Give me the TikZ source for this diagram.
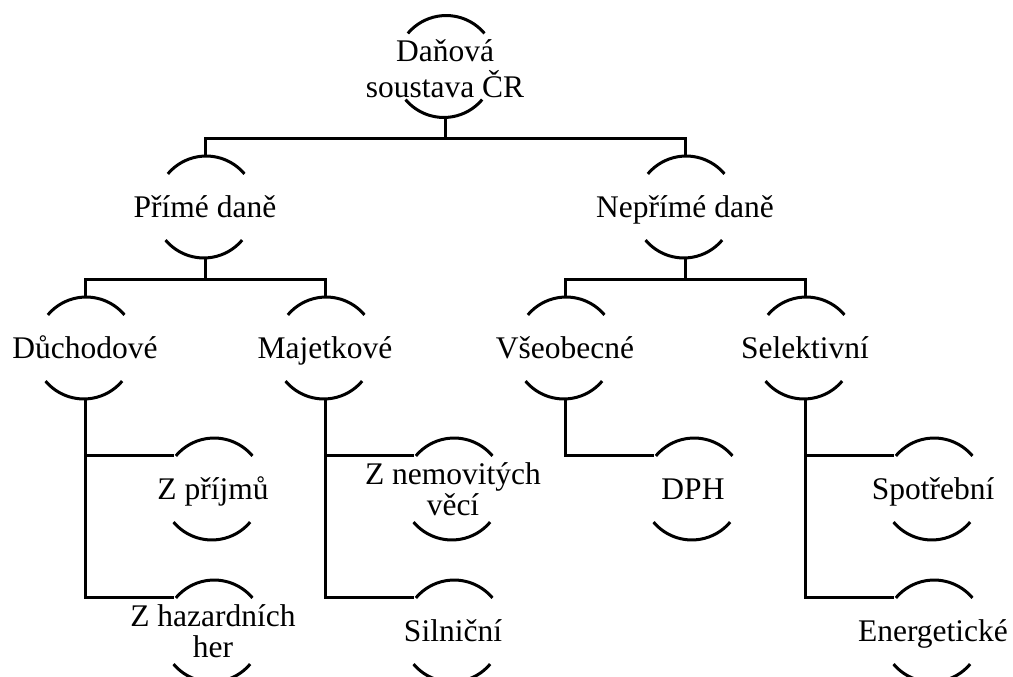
\documentclass[tikz,border=0pt]{standalone}
\usepackage{fontspec}
\setmainfont{Liberation Serif}
\newcommand{\twoline}[2]{\begin{tabular}[t]{@{}c@{}}#1\\#2\end{tabular}}
\begin{document}
\begin{tikzpicture}[x=1pt,y=1pt,line width=3pt,
  ring/.style={circle,minimum size=100pt,inner sep=0pt,draw=none},
  txt/.style={inner sep=0pt,font=\fontsize{31.5}{31}\selectfont},
  one/.style={txt,text height=20.6pt,text depth=0pt},
  two/.style={txt,text height=0pt,text depth=10pt},
  link/.style={line width=3pt}]
\useasboundingbox (0,0) rectangle (1013,-677);
\node[ring,label={[two]center:\twoline{Daňová}{soustava ČR}}] (root) at (445,-66.5) {};
\node[ring,label={[one]center:Přímé daně}] (p) at (205,-207) {};
\node[ring,label={[one]center:Nepřímé daně}] (n) at (685,-207) {};
\node[ring,label={[one]center:Důchodové}] (d) at (85,-348) {};
\node[ring,label={[one]center:Majetkové}] (m) at (325,-348) {};
\node[ring,label={[one]center:Všeobecné}] (v) at (565,-348) {};
\node[ring,label={[one]center:Selektivní}] (s) at (805,-348) {};
\node[ring,label={[one]center:Z příjmů}] (d1) at (213,-489) {};
\node[ring,label={[two]center:\twoline{Z hazardních}{her}}] (d2) at (213,-631) {};
\node[ring,label={[two]center:\twoline{Z nemovitých}{věcí}}] (m1) at (453,-489) {};
\node[ring,label={[one]center:Silniční}] (m2) at (453,-631) {};
\node[ring,label={[one]center:DPH}] (v1) at (693,-489) {};
\node[ring,label={[one]center:Spotřební}] (s1) at (933,-489) {};
\node[ring,label={[one]center:Energetické}] (s2) at (933,-631) {};
\foreach \n in {root,p,n,d,m,v,s,d1,d2,m1,m2,v1,s1,s2}{
  \draw (\n.40) arc[start angle=40,end angle=140,radius=50pt];
  \draw (\n.220) arc[start angle=220,end angle=320,radius=50pt];
}
\draw[link] (root.south) -- ++(0,-20.2) -| (p.north);
\draw[link] (root.south) -- ++(0,-20.2) -| (n.north);
\draw[link] (p.south) -- ++(0,-20.5) -| (d.north);
\draw[link] (p.south) -- ++(0,-20.5) -| (m.north);
\draw[link] (n.south) -- ++(0,-20.5) -| (v.north);
\draw[link] (n.south) -- ++(0,-20.5) -| (s.north);
\draw[link] (d.south) |- (d1.140);
\draw[link] (d.south) |- (d2.140);
\draw[link] (m.south) |- (m1.140);
\draw[link] (m.south) |- (m2.140);
\draw[link] (v.south) |- (v1.140);
\draw[link] (s.south) |- (s1.140);
\draw[link] (s.south) |- (s2.140);
\end{tikzpicture}
\end{document}
